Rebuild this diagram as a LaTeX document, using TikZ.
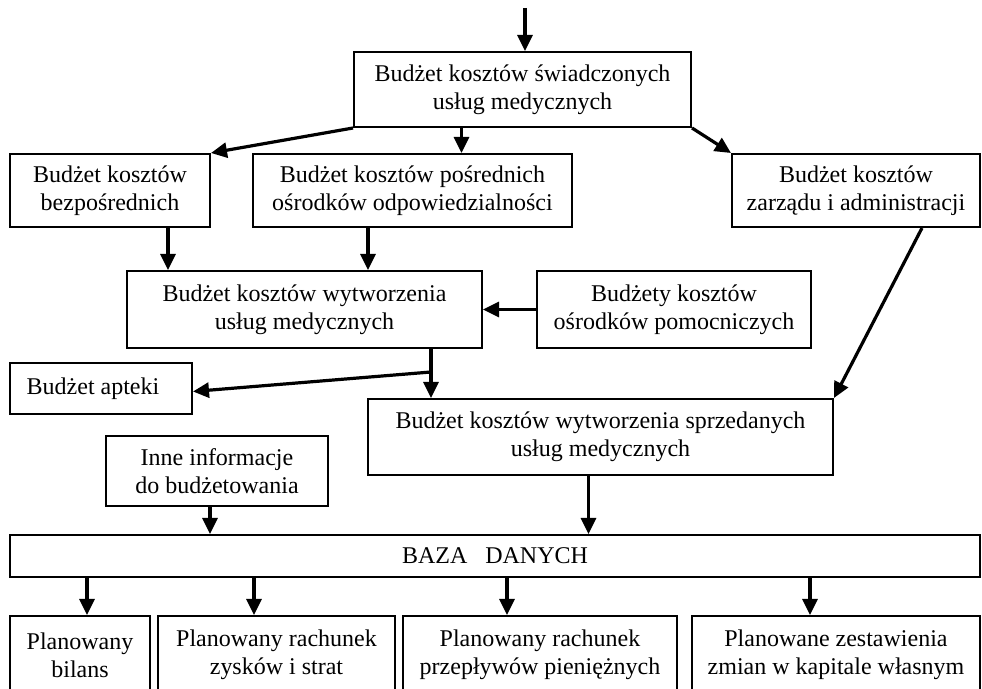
\documentclass[tikz,border=0pt]{standalone}
\usepackage{fontspec}
\setmainfont{Liberation Serif}
\usetikzlibrary{arrows.meta,calc}

\begin{document}
\begin{tikzpicture}[x=0.5pt, y=-0.5pt,
    box/.style={draw, line width=1pt, inner sep=0pt, align=center,
                font=\fontsize{12}{14}\selectfont},
    arrow/.style={-{Triangle[length=8pt,width=7.5pt]}, line width=1.6pt},
]
\clip (0,0) rectangle (982,689);
% budzety kosztow
\node[box, minimum width=168.5pt, minimum height=37.5pt] (swiad) at (522.5,89.5)
    {Budżet kosztów świadczonych\\usług medycznych};
\node[box, minimum width=100pt, minimum height=36.5pt] (bezp) at (110,190.5)
    {Budżet kosztów\\bezpośrednich};
\node[box, minimum width=159.5pt, minimum height=36.5pt] (posr) at (412.5,190.5)
    {Budżet kosztów pośrednich\\ośrodków odpowiedzialności};
\node[box, minimum width=124pt, minimum height=36.5pt] (zarz) at (856,190.5)
    {Budżet kosztów\\zarządu i administracji};
\node[box, minimum width=177.5pt, minimum height=38.5pt] (wytw) at (304.5,309.5)
    {Budżet kosztów wytworzenia\\usług medycznych};
\node[box, minimum width=137pt, minimum height=38.5pt] (pomoc) at (674,309.5)
    {Budżety kosztów\\ośrodków pomocniczych};
\node[box, minimum width=91pt, minimum height=25.5pt] (aptek) at (101,388.5)
    {\hspace*{-8pt}Budżet apteki};
\node[box, minimum width=232.5pt, minimum height=38pt] (sprzed) at (600.5,437)
    {Budżet kosztów wytworzenia sprzedanych\\usług medycznych};
\node[box, minimum width=111pt, minimum height=35pt] (inne) at (217,471)
    {Inne informacje\\do budżetowania};
% baza i plany
\node[box, minimum width=485pt, minimum height=21pt] (baza) at (495,556)
    {BAZA\ \ \ DANYCH};
\node[box, minimum width=70pt, minimum height=39pt] (bil) at (80,655)
    {Planowany\\bilans};
\node[box, minimum width=118.5pt, minimum height=39pt] (zys) at (276.5,655)
    {Planowany rachunek\\zysków i strat};
\node[box, minimum width=137pt, minimum height=39pt] (prz) at (540,655)
    {Planowany rachunek\\przepływów pieniężnych};
\node[box, minimum width=144pt, minimum height=39pt] (kap) at (836,655)
    {Planowane zestawienia\\zmian w kapitale własnym};
% polaczenia
\coordinate (start) at (525,8);
\draw[arrow] (start) -- (start |- swiad.north);
\draw[arrow] (swiad.south west) -- (bezp.north east);
\coordinate (s1) at ($(swiad.south west)!0.32!(swiad.south east)$);
\draw[arrow] (s1) -- (s1 |- posr.north);
\draw[arrow] (swiad.south east) -- (zarz.north west);
\draw[arrow] ([xshift=29pt]bezp.south) -- ([xshift=29pt]bezp.south |- wytw.north);
\draw[arrow] ([xshift=-22.25pt]posr.south) -- ([xshift=-22.25pt]posr.south |- wytw.north);
\draw[arrow] (pomoc.west) -- (pomoc.west -| wytw.east);
\coordinate (w1) at ([xshift=63.25pt]wytw.south);
\coordinate (w2) at ($(w1)+(0,23)$);
\draw[arrow] (w1) -- (w1 |- sprzed.north);
\draw[arrow] (w2) -- ([yshift=-1.5pt]aptek.east);
\draw[arrow] ([xshift=33pt]zarz.south) -- (sprzed.north east);
\draw[arrow] ([xshift=-3.5pt]inne.south) -- ([xshift=-3.5pt]inne.south |- baza.north);
\draw[arrow] ([xshift=-6pt]sprzed.south) -- ([xshift=-6pt]sprzed.south |- baza.north);
\foreach \n/\d in {bil/3.5pt, zys/-11.25pt, prz/-16.5pt, kap/-13pt}
    \draw[arrow] ([xshift=\d]\n.north |- baza.south) -- ([xshift=\d]\n.north);
\end{tikzpicture}
\end{document}
